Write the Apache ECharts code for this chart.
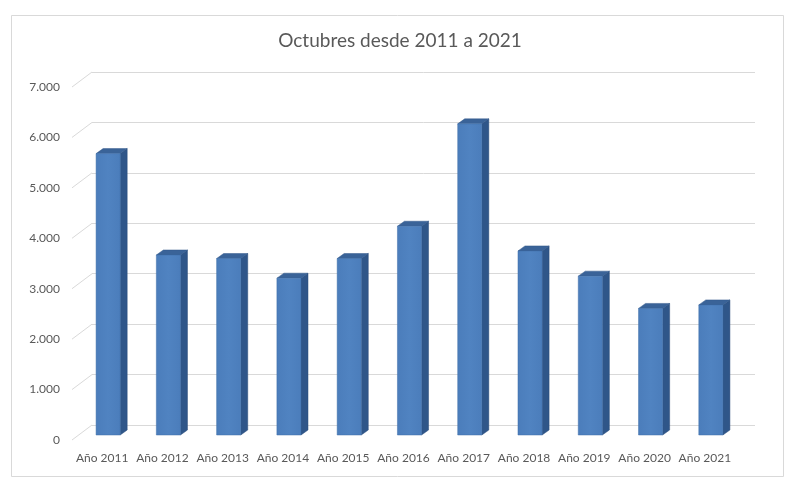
<!DOCTYPE html>
<html>
<head>
<meta charset="utf-8">
<script src="https://cdn.jsdelivr.net/npm/echarts@6/dist/echarts.min.js"></script>
<style>
html,body{margin:0;padding:0;background:#fff;}
#main{width:800px;height:480px;}
</style>
</head>
<body>
<div id="main"></div>
<script>
const titleText = 'Octubres desde 2011 a 2021';
const categories = ['Año 2011','Año 2012','Año 2013','Año 2014','Año 2015','Año 2016','Año 2017','Año 2018','Año 2019','Año 2020','Año 2021'];
const values = [5580, 3570, 3500, 3110, 3500, 4140, 6170, 3650, 3150, 2510, 2580];
const yMin = 0;
const yMax = 7000;
const yInterval = 1000;
const yTicks = [0, 1000, 2000, 3000, 4000, 5000, 6000, 7000];

const FONT = 'Lato, "Open Sans", sans-serif';
const TEXT = '#595959';
const GRIDC = '#d9d9d9';
const DEPTH_X = -20, DEPTH_Y = 15;   // floor depth (back wall -> front edge)
const BAR_DX = 7, BAR_DY = -5;       // bar depth

function fmt(v){ return String(v).replace(/\B(?=(\d{3})+(?!\d))/g, '.'); }

const chart = echarts.init(document.getElementById('main'), null, {renderer:'canvas'});
chart.setOption({
  backgroundColor: '#fff',
  animation: false,
  title: {
    text: titleText, left: 'center', top: 26,
    textStyle: {fontFamily: FONT, fontSize: 19, fontWeight: 'normal', color: TEXT}
  },
  graphic: [{
    type: 'rect', shape: {x: 11.5, y: 15.5, width: 772, height: 461},
    style: {fill: 'none', stroke: GRIDC, lineWidth: 1}, z: -1
  }],
  grid: [
    {left: 92, right: 45, top: 72, bottom: 55},   // back wall
    {left: 78, right: 59, top: 82, bottom: 45},   // bar plane
    {left: 72, right: 65, top: 87, bottom: 40}    // front edge (labels)
  ],
  xAxis: [
    {gridIndex: 0, type: 'value', min: 0, max: 1, show: false},
    {gridIndex: 1, type: 'category', data: categories, show: false},
    {gridIndex: 2, type: 'category', data: categories,
     axisLine: {show: false}, axisTick: {show: false},
     axisLabel: {margin: 12, fontFamily: FONT, fontSize: 12, color: TEXT, interval: 0}}
  ],
  yAxis: [
    {gridIndex: 0, type: 'value', min: yMin, max: yMax, interval: yInterval,
     axisLabel: {show: false}, axisLine: {show: false}, axisTick: {show: false},
     splitLine: {show: true, lineStyle: {color: GRIDC, width: 1}}},
    {gridIndex: 1, type: 'value', min: yMin, max: yMax, interval: yInterval, show: false},
    {gridIndex: 2, type: 'value', min: yMin, max: yMax, interval: yInterval,
     axisLine: {show: false}, axisTick: {show: false}, splitLine: {show: false},
     axisLabel: {margin: 12, fontFamily: FONT, fontSize: 12, color: TEXT, formatter: fmt}}
  ],
  series: [
    {
      type: 'custom', xAxisIndex: 0, yAxisIndex: 0, z: 1, silent: true,
      data: yTicks.map(v => [0, v]),
      renderItem: function(params, api){
        const p = api.coord([0, api.value(1)]);
        return {type: 'line', shape: {x1: p[0] + DEPTH_X, y1: p[1] + DEPTH_Y, x2: p[0], y2: p[1]},
                style: {stroke: GRIDC, lineWidth: 1}};
      }
    },
    {
      type: 'custom', xAxisIndex: 1, yAxisIndex: 1, z: 5,
      data: values.map((v, i) => [i, v]),
      renderItem: function(params, api){
        const i = api.value(0), v = api.value(1);
        const base = api.coord([i, 0]);
        const top = api.coord([i, v]);
        const bw = api.size([1, 0])[0] * 0.4;
        const x0 = top[0] - bw / 2, x1 = top[0] + bw / 2;
        const yt = top[1], yb = base[1];
        return {
          type: 'group',
          children: [
            {type: 'polygon', shape: {points: [[x1, yt], [x1 + BAR_DX, yt + BAR_DY], [x1 + BAR_DX, yb + BAR_DY], [x1, yb]]},
             style: {fill: '#2f5689', stroke: '#2a4d7a', lineWidth: 0.5}},
            {type: 'polygon', shape: {points: [[x0, yt], [x0 + BAR_DX, yt + BAR_DY], [x1 + BAR_DX, yt + BAR_DY], [x1, yt]]},
             style: {fill: '#3a6398', stroke: '#33598a', lineWidth: 0.5}},
            {type: 'rect', shape: {x: x0, y: yt, width: bw, height: yb - yt},
             style: {fill: new echarts.graphic.LinearGradient(0, 0, 1, 0, [
               {offset: 0, color: '#4b7dbb'}, {offset: 0.5, color: '#5083c1'}, {offset: 1, color: '#4b7dbb'}]),
               stroke: '#3f6ea8', lineWidth: 0.5}}
          ]
        };
      }
    }
  ]
});
</script>
</body>
</html>
